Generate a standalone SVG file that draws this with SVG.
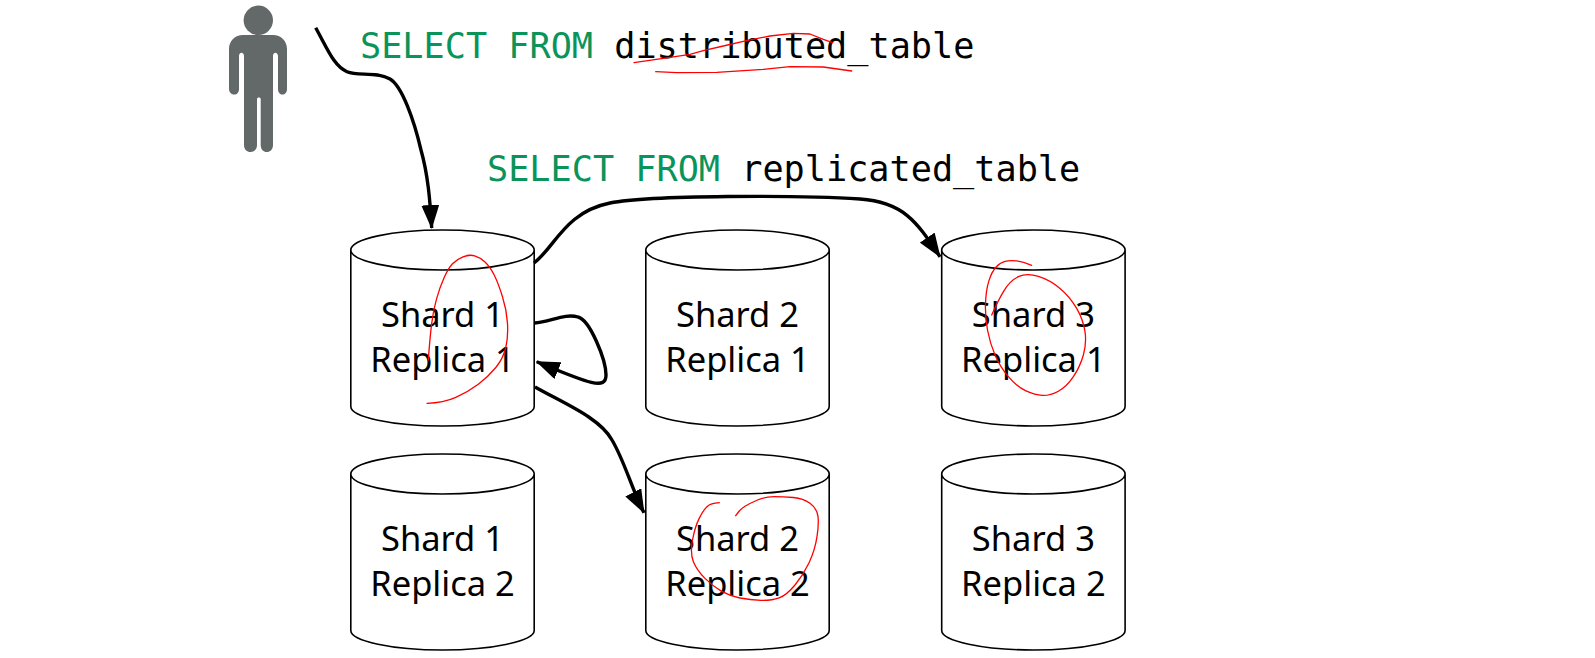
<svg xmlns="http://www.w3.org/2000/svg" width="1595" height="658" viewBox="0 0 1595 658">
<style>
.cyl{fill:#fff;stroke:#000;stroke-width:1.6}
.lbl{font-family:"Noto Sans","Open Sans",sans-serif;font-size:34.5px;fill:#000;text-anchor:middle}
.sql{font-family:"DejaVu Sans Mono","Liberation Mono",monospace;font-size:35.2px}
.kw{fill:#0a9459}
.tb{fill:#000}
.conn{fill:none;stroke:#000;stroke-width:3.4}
.red{fill:none;stroke:#f00;stroke-width:1.3;stroke-linejoin:round;stroke-linecap:round}
</style>
<defs>
<path id="cylshape" d="M-91.7 20V176.5C-91.7 187 -50 196 0 196S91.700 187 91.700 176.5V20C91.700 9 50 0 0 0S-91.700 9 -91.700 20C-91.700 31 -50 40 0 40S91.700 31 91.700 20"/>
<marker id="arrow" viewBox="0 0 24 18" markerUnits="userSpaceOnUse" markerWidth="24" markerHeight="18" refX="23" refY="9" orient="auto"><path d="M0 0L24 9L0 18Z" fill="#000"/></marker>
</defs>
<rect width="1595" height="658" fill="#fff"/>
<g id="user" fill="#636968">
<circle cx="258.300" cy="20.300" r="14.700"/>
<path d="M243 35H273C281 35 287 41 287 49V89C287 92.500 285 94.500 282.500 94.500C280 94.500 278 92.500 278 89V56C278 54 276.500 52.700 275.500 52.700C274 52.700 273 54 273 56V145C273 149.500 270 152 266.800 152C263.500 152 260.700 149.500 260.700 145V99C260.700 97 257 97 257 99V145C257 149.500 254 152 250.500 152C247 152 244 149.500 244 145V56C244 54 243 52.700 241.500 52.700C240 52.700 239 54 239 56V89C239 92.500 237 94.500 234.500 94.500C231.500 94.500 229 92.500 229 89V49C229 41 235 35 243 35Z"/>
</g>
<g id="query-distributed" class="sql">
<text x="360" y="58"><tspan class="kw">SELECT FROM</tspan><tspan class="tb"> distributed_table</tspan></text>
</g>
<g id="query-replicated" class="sql">
<text x="487" y="181"><tspan class="kw">SELECT FROM</tspan><tspan class="tb"> replicated_table</tspan></text>
</g>
<g id="s1r1"><use href="#cylshape" class="cyl" x="442.500" y="230"/><text class="lbl" x="442.500" y="327">Shard 1</text><text class="lbl" x="442.500" y="372">Replica 1</text></g>
<g id="s2r1"><use href="#cylshape" class="cyl" x="737.500" y="230"/><text class="lbl" x="737.500" y="327">Shard 2</text><text class="lbl" x="737.500" y="372">Replica 1</text></g>
<g id="s3r1"><use href="#cylshape" class="cyl" x="1033.400" y="230"/><text class="lbl" x="1033.400" y="327">Shard 3</text><text class="lbl" x="1033.400" y="372">Replica 1</text></g>
<g id="s1r2"><use href="#cylshape" class="cyl" x="442.500" y="454"/><text class="lbl" x="442.500" y="551">Shard 1</text><text class="lbl" x="442.500" y="596">Replica 2</text></g>
<g id="s2r2"><use href="#cylshape" class="cyl" x="737.500" y="454"/><text class="lbl" x="737.500" y="551">Shard 2</text><text class="lbl" x="737.500" y="596">Replica 2</text></g>
<g id="s3r2"><use href="#cylshape" class="cyl" x="1033.400" y="454"/><text class="lbl" x="1033.400" y="551">Shard 3</text><text class="lbl" x="1033.400" y="596">Replica 2</text></g>
<g id="connectors">
<path class="conn" marker-end="url(#arrow)" d="M315.700 27.700C328 50 334 66 347 71.700C358 76.500 376 71 390 79C402 86 414 120 421 150C428 175 430 200 431.700 228"/>
<path class="conn" marker-end="url(#arrow)" d="M534 263C555 247 565 212 610 203C650 195 800 195 860 199C905 202 918 224 940 256.700"/>
<path class="conn" marker-end="url(#arrow)" d="M534.500 323C550 322 565 313 578 317C590 320 606 360 606 375C606 390 590 384 536.700 361.700"/>
<path class="conn" marker-end="url(#arrow)" d="M535 387C565 404 600 418 612 440C625 462 632 490 644 512.700"/>
</g>
<g id="annotations">
<polyline class="red" points="634,62.700 663.300,58.300 690,54.300 703.300,50.700 723.300,46 746.700,40.700 770,36 793.300,33.300 810,34 823.300,39.300 832.700,42.700"/>
<polyline class="red" points="655.700,71.700 676.700,72.700 716.700,72.300 763.300,69.300 790,66.700 823.300,67 851.700,71"/>
<path class="red" d="M427 403.300Q443.300 403 455.800 397.400Q468.300 391.700 478.300 384.200Q488.300 376.700 495.800 367.500Q503.300 358.300 505.800 347.500Q508.300 336.700 507.500 323.400Q506.700 310 502.500 296.700Q498.300 283.300 494.200 275Q490 266.700 485 262Q480 257.300 474.700 255.800Q469.300 254.300 463 256.800Q456.700 259.300 452.500 263.800Q448.300 268.300 444.200 277.500Q440 286.700 436.700 298.400Q433.300 310 431.700 323.400Q430 336.700 428.300 360"/>
<path class="red" d="M1031.700 265.300Q1023.300 261.700 1016.700 260.900Q1010 260 1005 261.400Q1000 262.700 995.900 267.200Q991.700 271.700 988.900 280.900Q986 290 985.500 303.400Q985 316.700 987.500 330Q990 343.300 995 355Q1000 366.700 1008.400 376.700Q1016.700 386.700 1025.900 390.900Q1035 395 1042.500 395.400Q1050 395.700 1058.400 391.200Q1066.700 386.700 1073.400 376.700Q1080 366.700 1083.400 355Q1086.700 343.300 1085 331.700Q1083.300 320 1076.700 308.400Q1070 296.700 1060 288.400Q1050 280 1038.400 276.400Q1026.700 272.700 1018.400 276.700Q1010 280.700 1004.200 290.400Q998.300 300 991.700 315"/>
<path class="red" d="M719.300 502.700Q710.700 503.300 707 506.700Q703.300 510 699.200 518.400Q695 526.700 692.500 540Q690 553.300 693.400 561.700Q696.700 570 705 578.400Q713.300 586.700 721.700 591.400Q730 596 740 598Q750 600 760.900 600.400Q771.700 600.700 779.200 597.900Q786.700 595 795 585Q803.300 575 809.200 562.500Q815 550 817 536.700Q819 523.300 817.900 515.800Q816.700 508.300 810 503.300Q803.300 498.300 793.300 497.500Q783.300 496.700 774.200 496.700Q765 496.700 757.500 500Q750 503.300 745 506.200Q740 509 735.700 515.700"/>
</g>
</svg>
